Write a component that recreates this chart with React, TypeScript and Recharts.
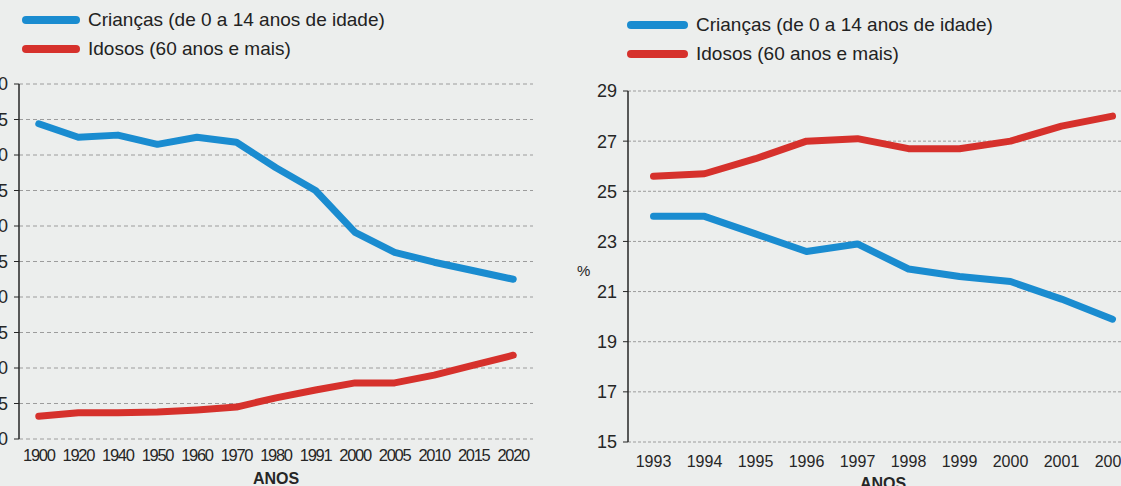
import { LineChart, Line, XAxis, YAxis, CartesianGrid, Legend } from 'recharts'

// grafico 1 - Brasil, 1900-2020 (%)
const ANOS_LONGO = ['1900', '1920', '1940', '1950', '1960', '1970', '1980', '1991', '2000', '2005', '2010', '2015', '2020']
const CRIANCAS_LONGO = [44.4, 42.5, 42.8, 41.5, 42.5, 41.8, 38.2, 35.0, 29.1, 26.3, 24.9, 23.7, 22.5]
const IDOSOS_LONGO = [3.2, 3.7, 3.7, 3.8, 4.1, 4.5, 5.8, 6.9, 7.9, 7.9, 9.0, 10.4, 11.8]
const Y_TICKS_LONGO = [0, 5, 10, 15, 20, 25, 30, 35, 40, 45, 50]

// grafico 2 - 1993-2002 (%)
const ANOS_CURTO = ['1993', '1994', '1995', '1996', '1997', '1998', '1999', '2000', '2001', '2002']
const CRIANCAS_CURTO = [24.0, 24.0, 23.3, 22.6, 22.9, 21.9, 21.6, 21.4, 20.7, 19.9]
const IDOSOS_CURTO = [25.6, 25.7, 26.3, 27.0, 27.1, 26.7, 26.7, 27.0, 27.6, 28.0]
const Y_TICKS_CURTO = [15, 17, 19, 21, 23, 25, 27, 29]

const NOME_CRIANCAS = 'Crianças (de 0 a 14 anos de idade)'
const NOME_IDOSOS = 'Idosos (60 anos e mais)'

const BLUE = '#1a8cd0'
const RED = '#d6312c'
const INK = '#262626'
const PAPER = '#eceeed'
const SANS = '"Liberation Sans", Arial, sans-serif'

const toRows = (anos: string[], kids: number[], old: number[]) =>
  anos.map((ano, i) => ({ i, ano, criancas: kids[i], idosos: old[i] }))

function LegendBox({ payload, swatch }: any) {
  return (
    <div style={{ fontFamily: SANS }}>
      {(payload || []).map((p: any) => (
        <div key={p.value} style={{ display: 'flex', alignItems: 'center', height: 29 }}>
          <span style={{ width: swatch, height: 8, borderRadius: 4, background: p.color, display: 'inline-block' }} />
          <span style={{ marginLeft: 8, fontSize: 19, color: '#222' }}>{p.value}</span>
        </div>
      ))}
    </div>
  )
}

type PanelProps = {
  anos: string[]
  kids: number[]
  old: number[]
  yTicks: number[]
  left: number
  width: number
  height: number
  margin: { top: number; right: number; bottom: number; left: number }
  yWidth: number
  xFont: any
  xMargin: number
  xHeight: number
  yLabel?: any
  gridDash: string
  legendPos: { left: number; top: number }
  swatch: number
}

function Panel(p: PanelProps) {
  const data = toRows(p.anos, p.kids, p.old)
  const n = p.anos.length
  const bounds = Array.from({ length: n + 1 }, (_, k) => k - 0.5)
  const centers = p.anos.map((_, i) => i)
  const domain: [number, number] = [-0.5, n - 0.5]
  return (
    <div style={{ position: 'absolute', left: p.left, top: 0 }}>
      <LineChart width={p.width} height={p.height} data={data} margin={p.margin}>
        <CartesianGrid xAxisId="a" vertical={false} stroke="#9c9c9c" strokeDasharray={p.gridDash} />
        <XAxis
          xAxisId="a" type="number" dataKey="i" domain={domain} ticks={bounds} interval={0}
          tick={false} tickSize={5} height={0}
          axisLine={{ stroke: INK, strokeWidth: 1.5 }} tickLine={{ stroke: INK }}
        />
        <XAxis
          xAxisId="b" type="number" dataKey="i" domain={domain} ticks={centers} interval={0}
          tickFormatter={(v: number) => p.anos[v]}
          axisLine={false} tickLine={false} tickSize={0} tickMargin={p.xMargin} height={p.xHeight}
          tick={{ fill: INK, ...p.xFont }}
          label={{ value: 'ANOS', position: 'insideBottom', offset: 0, fill: INK, fontSize: 16, fontWeight: 'bold', fontFamily: SANS }}
        />
        <YAxis
          type="number" domain={[p.yTicks[0], p.yTicks[p.yTicks.length - 1]]} ticks={p.yTicks} interval={0}
          width={p.yWidth} tickSize={5} tickMargin={6}
          axisLine={{ stroke: INK, strokeWidth: 1.5 }} tickLine={{ stroke: INK }}
          tick={{ fill: INK, fontSize: 18, fontFamily: SANS }}
          label={p.yLabel}
        />
        <Legend
          layout="horizontal" verticalAlign="middle" align="center"
          wrapperStyle={{ left: p.legendPos.left, top: p.legendPos.top, width: 'auto' }}
          content={(props: any) => <LegendBox {...props} swatch={p.swatch} />}
        />
        <Line
          xAxisId="a" dataKey="criancas" name={NOME_CRIANCAS} type="linear" stroke={BLUE}
          strokeWidth={7} strokeLinecap="round" strokeLinejoin="round" dot={false} activeDot={false}
          isAnimationActive={false}
        />
        <Line
          xAxisId="a" dataKey="idosos" name={NOME_IDOSOS} type="linear" stroke={RED}
          strokeWidth={7} strokeLinecap="round" strokeLinejoin="round" dot={false} activeDot={false}
          isAnimationActive={false}
        />
      </LineChart>
    </div>
  )
}

export default function App() {
  return (
    <div style={{ position: 'absolute', left: 0, top: 0, width: 1121, height: 486, overflow: 'hidden', background: PAPER, fontFamily: SANS }}>
      <Panel
        anos={ANOS_LONGO} kids={CRIANCAS_LONGO} old={IDOSOS_LONGO} yTicks={Y_TICKS_LONGO}
        left={-40} width={620} height={486}
        margin={{ top: 84, right: 47, bottom: 2, left: 0 }} yWidth={59}
        xFont={{ fontSize: 16.5, fontFamily: SANS, letterSpacing: -1.3 }} xMargin={10} xHeight={45}
        gridDash="4 3" legendPos={{ left: 62, top: 5 }} swatch={58}
      />
      <Panel
        anos={ANOS_CURTO} kids={CRIANCAS_CURTO} old={IDOSOS_CURTO} yTicks={Y_TICKS_CURTO}
        left={560} width={588} height={500}
        margin={{ top: 91, right: 10, bottom: 11, left: 0 }} yWidth={68}
        xFont={{ fontSize: 16, fontFamily: SANS }} xMargin={14} xHeight={47}
        yLabel={{ value: '%', position: 'insideLeft', offset: 17, dy: 4, fill: INK, fontSize: 15, fontFamily: SANS }}
        gridDash="3 2" legendPos={{ left: 67, top: 10 }} swatch={61}
      />
    </div>
  )
}
